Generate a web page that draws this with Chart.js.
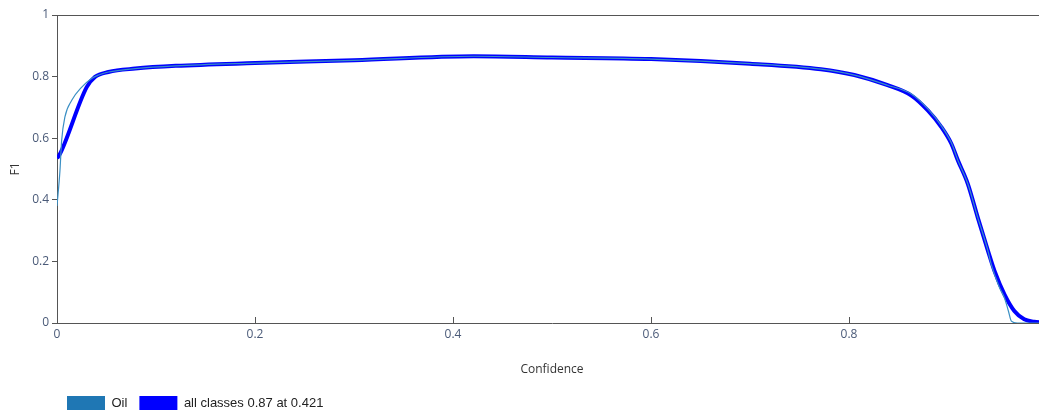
<!DOCTYPE html>
<html><head><meta charset="utf-8">
<script src="https://cdn.jsdelivr.net/npm/chart.js@4.4.1/dist/chart.umd.min.js"></script>
<style>
html,body{margin:0;padding:0;background:#fff;overflow:hidden;width:1039px;height:413px;}
#wrap{position:absolute;left:0;top:0;width:1052px;height:413px;}
</style></head><body>
<div id="wrap"><canvas id="c" width="1052" height="413"></canvas></div>
<script>
const xTicks = [0, 0.2, 0.4, 0.6, 0.8];
const yTicks = [0, 0.2, 0.4, 0.6, 0.8, 1];
const seriesNames = ['Oil', 'all classes 0.87 at 0.421'];

const oilConf = [0, 0.003, 0.0047, 0.008, 0.0149, 0.025, 0.035, 0.042, 0.052, 0.079, 0.12, 0.2, 0.3, 0.421, 0.5, 0.6, 0.7, 0.7716, 0.8054, 0.839, 0.8627, 0.8796, 0.8933, 0.9034, 0.910, 0.920, 0.930, 0.9403, 0.9436, 0.952, 0.957, 0.961, 0.964, 0.97, 1.0];
const oilF1   = [0.38, 0.495, 0.593, 0.669, 0.723, 0.766, 0.794, 0.805, 0.815, 0.826, 0.835, 0.844, 0.853, 0.866, 0.862, 0.857, 0.842, 0.824, 0.805, 0.772, 0.744, 0.695, 0.640, 0.585, 0.528, 0.452, 0.343, 0.235, 0.191, 0.115, 0.082, 0.039, 0.006, 0, 0];

const allConf = [0, 0.003, 0.030, 0.0384, 0.052, 0.079, 0.12, 0.2, 0.3, 0.421, 0.5, 0.6, 0.7, 0.7716, 0.8054, 0.839, 0.8627, 0.8796, 0.8933, 0.9034, 0.910, 0.920, 0.930, 0.9403, 0.947, 0.957, 0.967, 0.977, 0.987, 0.993, 1.0];
const allF1   = [0.535, 0.549, 0.766, 0.799, 0.815, 0.826, 0.835, 0.844, 0.853, 0.866, 0.862, 0.857, 0.842, 0.824, 0.805, 0.772, 0.739, 0.690, 0.636, 0.582, 0.528, 0.452, 0.343, 0.235, 0.169, 0.093, 0.039, 0.012, 0.004, 0.002, 0.001];

const pts = (xs, ys) => xs.map((x, i) => ({x, y: ys[i]}));
const axisColor = '#555';
const tickFont = {family: "'Open Sans', 'DejaVu Sans', sans-serif", size: 12};

const innerTicks = {
  id: 'innerTicks',
  beforeDraw(chart) {
    const lg = chart.legend;
    if (lg) { lg.left = 55; lg.top += 7; }
  },
  afterDraw(chart) {
    const ctx = chart.ctx, xs = chart.scales.x, ys = chart.scales.y, a = chart.chartArea;
    ctx.save();
    ctx.strokeStyle = axisColor; ctx.lineWidth = 1;
    ctx.beginPath();
    xTicks.forEach(v => { const p = Math.round(xs.getPixelForValue(v)) + 0.5; ctx.moveTo(p, a.bottom); ctx.lineTo(p, a.bottom - 6); });
    yTicks.forEach(v => { const p = Math.round(ys.getPixelForValue(v)) + 0.5; ctx.moveTo(a.right, p); ctx.lineTo(a.right - 8, p); });
    ctx.moveTo(a.left, Math.round(a.top) + 0.5); ctx.lineTo(a.right, Math.round(a.top) + 0.5);
    ctx.moveTo(Math.round(a.right) + 0.5, a.top); ctx.lineTo(Math.round(a.right) + 0.5, a.bottom);
    ctx.stroke();
    ctx.restore();
  }
};

new Chart(document.getElementById('c'), {
  type: 'line',
  data: {
    datasets: [
      {label: seriesNames[0], data: pts(oilConf, oilF1), borderColor: '#3a8fc4', backgroundColor: '#1f77b4', borderWidth: 1.2, pointRadius: 0, cubicInterpolationMode: 'monotone'},
      {label: seriesNames[1], data: pts(allConf, allF1), borderColor: '#0000ff', backgroundColor: '#0000ff', borderWidth: 4, pointRadius: 0, cubicInterpolationMode: 'monotone'}
    ]
  },
  options: {
    responsive: false, animation: false,
    layout: {padding: {left: 0, top: 15, right: 5, bottom: 0}},
    plugins: {
      tooltip: {enabled: false},
      legend: {
        position: 'bottom', align: 'start',
        labels: {boxWidth: 38, boxHeight: 14, padding: 12, color: '#222',
          font: {family: "'Liberation Sans', Arial, sans-serif", size: 13},
          generateLabels: (chart) => chart.data.datasets.map((d, i) => ({text: d.label, fillStyle: d.backgroundColor, strokeStyle: d.backgroundColor, lineWidth: 0, datasetIndex: i, fontColor: '#222'}))
        }
      }
    },
    scales: {
      x: {
        type: 'linear', min: 0, max: 1,
        afterBuildTicks: s => { s.ticks = xTicks.map(v => ({value: v})); },
        afterFit: s => { s.height = 54; },
        ticks: {color: '#4a5a78', font: tickFont, padding: 4, maxRotation: 0, callback: v => String(v)},
        grid: {drawOnChartArea: false, drawTicks: false, tickLength: 0},
        border: {color: axisColor, width: 1},
        title: {display: true, text: 'Confidence', color: '#333', font: tickFont, padding: {top: 14, bottom: 0}}
      },
      y: {
        type: 'linear', min: 0, max: 1,
        afterBuildTicks: s => { s.ticks = yTicks.map(v => ({value: v})); },
        afterFit: s => { s.width = 57; },
        ticks: {color: '#4a5a78', font: tickFont, padding: 3, callback: v => String(v)},
        grid: {drawOnChartArea: false, tickLength: 5, color: axisColor},
        border: {color: axisColor, width: 1},
        title: {display: true, text: 'F1', color: '#333', font: tickFont, padding: {top: 8, bottom: 8}}
      }
    }
  },
  plugins: [innerTicks]
});
</script>
</body></html>
